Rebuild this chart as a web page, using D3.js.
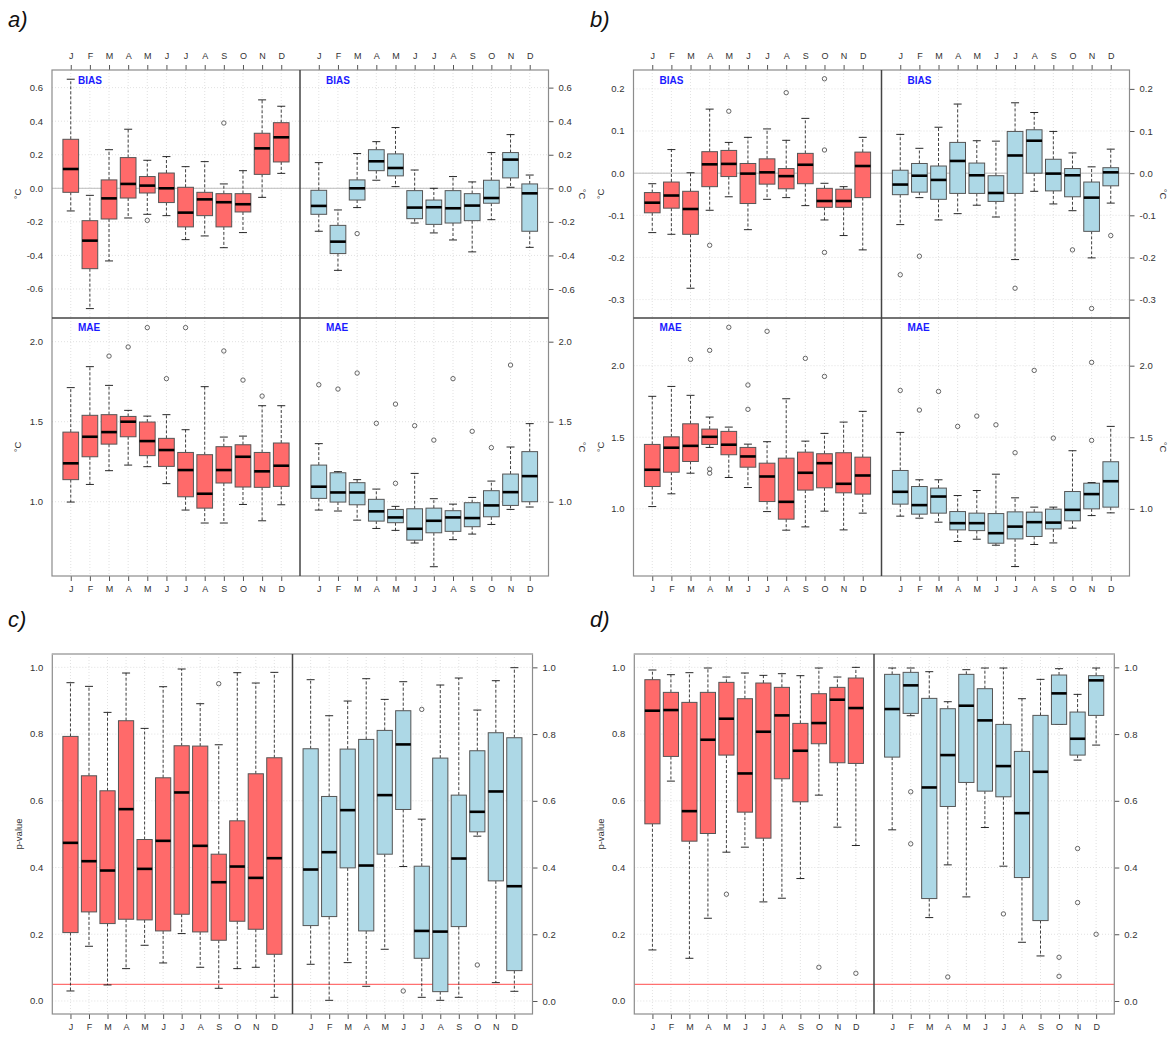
<!DOCTYPE html>
<html>
<head>
<meta charset="utf-8">
<script src="https://cdn.jsdelivr.net/npm/d3@7"></script>
<style>
  body { margin: 0; background: #fff; }
  svg { display: block; font-family: "Liberation Sans", Arial, sans-serif; }
</style>
</head>
<body>
<svg id="fig" width="1174" height="1039"></svg>
<script>
// ---- categories and ticks ----
const months = ["J", "F", "M", "A", "M", "J", "J", "A", "S", "O", "N", "D"];
const aBiasTicks = [-0.6, -0.4, -0.2, 0, 0.2, 0.4, 0.6];
const aMaeTicks = [1.0, 1.5, 2.0];
const bBiasTicks = [-0.3, -0.2, -0.1, 0, 0.1, 0.2];
const bMaeTicks = [1.0, 1.5, 2.0];
const pTicks = [0, 0.2, 0.4, 0.6, 0.8, 1.0];
const pThreshold = 0.05;

// ---- box statistics per month: [lower whisker, Q1, median, Q3, upper whisker, outliers] ----
const aBiasLeft = [
  [-0.135, -0.024, 0.115, 0.292, 0.650, []],
  [-0.717, -0.479, -0.312, -0.193, -0.042, []],
  [-0.433, -0.183, -0.060, 0.050, 0.230, []],
  [-0.177, -0.058, 0.026, 0.183, 0.352, []],
  [-0.155, -0.028, 0.016, 0.070, 0.167, [-0.191]],
  [-0.163, -0.085, 0.000, 0.091, 0.189, []],
  [-0.306, -0.230, -0.145, 0.006, 0.129, []],
  [-0.284, -0.163, -0.066, -0.024, 0.159, []],
  [-0.354, -0.230, -0.083, -0.032, 0.026, [0.389]],
  [-0.264, -0.141, -0.095, -0.032, 0.105, []],
  [-0.054, 0.083, 0.238, 0.328, 0.527, []],
  [0.089, 0.157, 0.304, 0.391, 0.489, []]
];
const aBiasRight = [
  [-0.256, -0.155, -0.105, -0.012, 0.153, []],
  [-0.489, -0.389, -0.318, -0.221, -0.129, []],
  [-0.115, -0.070, 0.000, 0.050, 0.207, [-0.270]],
  [0.048, 0.105, 0.161, 0.230, 0.278, []],
  [0.010, 0.074, 0.121, 0.205, 0.362, []],
  [-0.207, -0.181, -0.115, -0.014, 0.109, []],
  [-0.266, -0.215, -0.113, -0.070, 0.000, []],
  [-0.308, -0.207, -0.119, -0.014, 0.070, []],
  [-0.379, -0.193, -0.103, -0.032, 0.038, []],
  [-0.187, -0.089, -0.058, 0.048, 0.213, []],
  [0.006, 0.062, 0.171, 0.213, 0.320, []],
  [-0.352, -0.256, -0.030, 0.026, 0.079, []]
];
const aMaeLeft = [
  [0.998, 1.138, 1.240, 1.435, 1.713, []],
  [1.108, 1.281, 1.406, 1.540, 1.844, []],
  [1.194, 1.360, 1.435, 1.544, 1.727, [1.910]],
  [1.229, 1.406, 1.500, 1.533, 1.571, [1.967]],
  [1.219, 1.288, 1.379, 1.498, 1.535, [2.088]],
  [1.113, 1.221, 1.323, 1.396, 1.544, [1.769]],
  [0.948, 1.031, 1.198, 1.308, 1.450, [2.088]],
  [0.867, 0.960, 1.050, 1.294, 1.719, []],
  [0.867, 1.117, 1.198, 1.344, 1.404, [1.942]],
  [0.983, 1.092, 1.281, 1.356, 1.410, [1.760]],
  [0.881, 1.090, 1.190, 1.308, 1.600, [1.660]],
  [0.981, 1.096, 1.225, 1.367, 1.600, []]
];
const aMaeRight = [
  [0.948, 1.021, 1.094, 1.229, 1.363, [1.731]],
  [0.942, 0.998, 1.058, 1.181, 1.188, [1.704]],
  [0.885, 0.981, 1.058, 1.119, 1.138, [1.804]],
  [0.833, 0.879, 0.940, 1.015, 1.079, [1.490]],
  [0.821, 0.869, 0.902, 0.952, 0.971, [1.610, 1.115]],
  [0.742, 0.760, 0.831, 0.956, 1.177, [1.475]],
  [0.594, 0.806, 0.881, 0.960, 1.019, [1.385]],
  [0.763, 0.815, 0.902, 0.944, 0.985, [1.769]],
  [0.798, 0.844, 0.898, 0.994, 1.027, [1.440]],
  [0.858, 0.906, 0.977, 1.069, 1.129, [1.338]],
  [0.952, 0.977, 1.060, 1.173, 1.342, [1.854]],
  [0.967, 1.000, 1.160, 1.313, 1.488, []]
];
const bBiasLeft = [
  [-0.141, -0.094, -0.070, -0.046, -0.025, []],
  [-0.145, -0.083, -0.053, -0.021, 0.056, []],
  [-0.273, -0.145, -0.085, -0.043, 0.001, []],
  [-0.088, -0.032, 0.021, 0.051, 0.152, [-0.171]],
  [-0.056, -0.008, 0.022, 0.054, 0.073, [0.147]],
  [-0.134, -0.072, -0.001, 0.023, 0.085, []],
  [-0.062, -0.026, 0.002, 0.034, 0.105, []],
  [-0.058, -0.037, -0.007, 0.011, 0.078, [0.191]],
  [-0.077, -0.025, 0.020, 0.047, 0.130, []],
  [-0.111, -0.081, -0.066, -0.036, -0.024, [0.224, 0.055, -0.188]],
  [-0.148, -0.081, -0.066, -0.038, -0.032, []],
  [-0.182, -0.058, 0.017, 0.050, 0.085, []]
];
const bBiasRight = [
  [-0.122, -0.051, -0.027, 0.007, 0.092, [-0.241]],
  [-0.058, -0.045, -0.006, 0.023, 0.059, [-0.197]],
  [-0.111, -0.062, -0.016, 0.017, 0.109, []],
  [-0.096, -0.048, 0.029, 0.073, 0.164, []],
  [-0.076, -0.048, -0.005, 0.024, 0.077, []],
  [-0.104, -0.067, -0.047, -0.006, 0.076, []],
  [-0.205, -0.048, 0.042, 0.099, 0.167, [-0.273]],
  [-0.043, 0.000, 0.077, 0.103, 0.144, []],
  [-0.073, -0.042, -0.001, 0.033, 0.099, []],
  [-0.089, -0.056, -0.005, 0.011, 0.048, [-0.182]],
  [-0.201, -0.138, -0.058, -0.021, 0.015, [-0.321]],
  [-0.071, -0.030, 0.002, 0.013, 0.057, [-0.148]]
];
const bMaeLeft = [
  [1.016, 1.156, 1.273, 1.450, 1.786, []],
  [1.105, 1.256, 1.427, 1.503, 1.855, []],
  [1.249, 1.331, 1.440, 1.594, 1.793, [2.044]],
  [1.429, 1.450, 1.503, 1.557, 1.641, [2.107, 1.277, 1.249]],
  [1.219, 1.378, 1.448, 1.541, 1.571, [2.268]],
  [1.149, 1.291, 1.366, 1.429, 1.452, [1.865, 1.695]],
  [0.981, 1.051, 1.226, 1.319, 1.469, [2.240]],
  [0.851, 0.928, 1.049, 1.354, 1.769, []],
  [0.874, 1.131, 1.252, 1.396, 1.473, [2.051]],
  [0.984, 1.147, 1.319, 1.385, 1.527, [1.925]],
  [0.853, 1.112, 1.175, 1.392, 1.606, []],
  [0.970, 1.103, 1.233, 1.361, 1.681, []]
];
const bMaeRight = [
  [0.949, 1.033, 1.119, 1.268, 1.534, [1.827]],
  [0.935, 0.963, 1.026, 1.156, 1.203, [1.690]],
  [0.907, 0.970, 1.086, 1.145, 1.203, [1.820]],
  [0.772, 0.853, 0.900, 0.981, 1.093, [1.576]],
  [0.788, 0.848, 0.900, 0.970, 1.128, [1.648]],
  [0.746, 0.760, 0.830, 0.967, 1.242, [1.587]],
  [0.597, 0.790, 0.876, 0.979, 1.077, [1.392]],
  [0.751, 0.807, 0.907, 0.977, 1.012, [1.967]],
  [0.762, 0.860, 0.904, 0.998, 1.012, [1.494]],
  [0.865, 0.916, 0.993, 1.121, 1.406, []],
  [0.953, 1.000, 1.103, 1.179, 1.184, [2.023, 1.478]],
  [0.972, 1.012, 1.193, 1.329, 1.576, []]
];
const cLeft = [
  [0.030, 0.205, 0.474, 0.793, 0.954, []],
  [0.164, 0.267, 0.419, 0.675, 0.943, []],
  [0.048, 0.232, 0.391, 0.630, 0.865, []],
  [0.097, 0.245, 0.575, 0.840, 0.983, []],
  [0.167, 0.243, 0.396, 0.484, 0.817, []],
  [0.114, 0.210, 0.480, 0.669, 0.942, []],
  [0.202, 0.260, 0.625, 0.765, 0.995, []],
  [0.101, 0.207, 0.465, 0.764, 0.891, []],
  [0.038, 0.182, 0.356, 0.440, 0.768, [0.951]],
  [0.097, 0.239, 0.403, 0.540, 0.984, []],
  [0.101, 0.215, 0.369, 0.681, 0.953, []],
  [0.011, 0.140, 0.428, 0.729, 0.985, []]
];
const cRight = [
  [0.110, 0.226, 0.394, 0.756, 0.963, []],
  [0.002, 0.253, 0.446, 0.613, 0.855, []],
  [0.115, 0.399, 0.572, 0.755, 0.899, []],
  [0.044, 0.210, 0.406, 0.784, 0.966, []],
  [0.155, 0.440, 0.617, 0.811, 0.904, []],
  [0.403, 0.574, 0.769, 0.870, 0.957, [0.030]],
  [0.011, 0.128, 0.210, 0.404, 0.545, [0.874]],
  [0.002, 0.028, 0.208, 0.728, 0.947, []],
  [0.011, 0.223, 0.427, 0.617, 0.968, []],
  [0.494, 0.507, 0.567, 0.750, 0.872, [0.108]],
  [0.055, 0.360, 0.628, 0.804, 0.960, []],
  [0.029, 0.091, 0.344, 0.789, 0.999, []]
];
const dLeft = [
  [0.153, 0.531, 0.870, 0.963, 0.992, []],
  [0.659, 0.733, 0.872, 0.925, 0.978, []],
  [0.128, 0.479, 0.569, 0.895, 0.984, []],
  [0.248, 0.502, 0.783, 0.925, 0.998, []],
  [0.446, 0.737, 0.846, 0.955, 0.971, [0.320]],
  [0.461, 0.566, 0.682, 0.906, 0.983, []],
  [0.297, 0.488, 0.807, 0.953, 0.976, []],
  [0.308, 0.666, 0.856, 0.940, 0.981, []],
  [0.367, 0.597, 0.750, 0.832, 0.975, []],
  [0.617, 0.771, 0.833, 0.921, 0.998, [0.101]],
  [0.521, 0.714, 0.903, 0.940, 0.971, []],
  [0.466, 0.712, 0.878, 0.968, 1.000, [0.083]]
];
const dRight = [
  [0.513, 0.731, 0.875, 0.979, 0.998, []],
  [0.855, 0.862, 0.946, 0.985, 0.998, [0.627, 0.471]],
  [0.250, 0.307, 0.640, 0.907, 0.987, []],
  [0.408, 0.583, 0.737, 0.876, 0.897, [0.072]],
  [0.312, 0.655, 0.885, 0.979, 0.993, []],
  [0.520, 0.629, 0.841, 0.936, 0.998, []],
  [0.404, 0.612, 0.704, 0.829, 0.998, [0.261]],
  [0.176, 0.370, 0.563, 0.748, 0.906, []],
  [0.135, 0.241, 0.687, 0.856, 0.964, []],
  [0.829, 0.829, 0.922, 0.977, 0.996, [0.131, 0.074]],
  [0.722, 0.737, 0.786, 0.866, 0.919, [0.457, 0.295]],
  [0.767, 0.856, 0.961, 0.975, 0.998, [0.200]]
];

// ---- styling ----
const RED = "#FF6A6A";
const BLUE = "#ADD8E6";
const FRAME = "#8c8c8c";
const DIVIDER = "#444";
const GRID = "#d9d9d9";
const TXT = "#333";

const svg = d3.select("#fig");
const fmt = v => v.toFixed(1);
const monthIdx = d3.range(1, 13);

// One half-panel: grid, optional reference line, boxes
function drawHalf(g, x0, x1, yScale, ticks, data, fill, zeroLine) {
  const x = d3.scaleLinear().domain([0.02, 12.98]).range([x0, x1]);
  const [yb, yt] = yScale.range();
  const grid = g.append("g");
  grid.selectAll("line.v").data(monthIdx).join("line")
    .attr("x1", d => x(d)).attr("x2", d => x(d))
    .attr("y1", yt).attr("y2", yb)
    .attr("stroke", GRID).attr("stroke-width", 0.8).attr("stroke-dasharray", "1,2");
  grid.selectAll("line.h").data(ticks).join("line")
    .attr("x1", x0).attr("x2", x1)
    .attr("y1", d => yScale(d)).attr("y2", d => yScale(d))
    .attr("stroke", GRID).attr("stroke-width", 0.8).attr("stroke-dasharray", "1,2");
  if (zeroLine) {
    g.append("line").attr("x1", x0).attr("x2", x1)
      .attr("y1", yScale(0)).attr("y2", yScale(0))
      .attr("stroke", "#bdbdbd").attr("stroke-width", 1);
  }
  return x;
}

function drawBoxes(g, x, yScale, data, fill) {
  const step = x(2) - x(1);
  const hw = step * 0.41;
  const cap = 4;
  const boxes = g.append("g").selectAll("g").data(data).join("g")
    .attr("transform", (d, i) => `translate(${x(i + 1)},0)`);
  // whiskers
  boxes.append("line").attr("x1", 0).attr("x2", 0)
    .attr("y1", d => yScale(d[3])).attr("y2", d => yScale(d[4]))
    .attr("stroke", "#111").attr("stroke-width", 0.8).attr("stroke-dasharray", "3,2");
  boxes.append("line").attr("x1", 0).attr("x2", 0)
    .attr("y1", d => yScale(d[1])).attr("y2", d => yScale(d[0]))
    .attr("stroke", "#111").attr("stroke-width", 0.8).attr("stroke-dasharray", "3,2");
  boxes.append("line").attr("x1", -cap).attr("x2", cap)
    .attr("y1", d => yScale(d[4])).attr("y2", d => yScale(d[4]))
    .attr("stroke", "#111").attr("stroke-width", 0.9);
  boxes.append("line").attr("x1", -cap).attr("x2", cap)
    .attr("y1", d => yScale(d[0])).attr("y2", d => yScale(d[0]))
    .attr("stroke", "#111").attr("stroke-width", 0.9);
  // box
  boxes.append("rect").attr("x", -hw).attr("width", 2 * hw)
    .attr("y", d => yScale(d[3])).attr("height", d => yScale(d[1]) - yScale(d[3]))
    .attr("fill", fill).attr("stroke", "#555").attr("stroke-width", 1);
  // median
  boxes.append("line").attr("x1", -hw).attr("x2", hw)
    .attr("y1", d => yScale(d[2])).attr("y2", d => yScale(d[2]))
    .attr("stroke", "#000").attr("stroke-width", 2.6);
  // outliers
  boxes.each(function (d) {
    d3.select(this).selectAll("circle").data(d[5]).join("circle")
      .attr("cx", 0).attr("cy", v => yScale(v)).attr("r", 2.2)
      .attr("fill", "none").attr("stroke", "#555").attr("stroke-width", 0.9);
  });
}

function monthAxis(g, x, y, dir) {
  const ax = (dir === "top" ? d3.axisTop(x) : d3.axisBottom(x))
    .tickValues(monthIdx).tickFormat(d => months[d - 1])
    .tickSize(5).tickPadding(dir === "top" ? 6 : 5);
  const a = g.append("g").attr("transform", `translate(0,${y})`).call(ax);
  a.select(".domain").remove();
  a.selectAll("line").attr("stroke", "#555");
  a.selectAll("text").attr("fill", TXT).style("font-size", "9px")
    .style("font-family", "'Liberation Sans', Arial, sans-serif");
}

function leftLabels(g, x0, yScale, ticks) {
  g.append("g").selectAll("text").data(ticks).join("text")
    .attr("x", x0 - 9).attr("y", d => yScale(d)).attr("dy", "0.35em")
    .attr("text-anchor", "end").attr("fill", TXT).style("font-size", "9.5px")
    .text(fmt);
}

function rightAxis(g, x1, yScale, ticks) {
  const a = g.append("g").attr("transform", `translate(${x1},0)`)
    .call(d3.axisRight(yScale).tickValues(ticks).tickFormat(fmt).tickSize(5).tickPadding(5));
  a.select(".domain").remove();
  a.selectAll("line").attr("stroke", "#555");
  a.selectAll("text").attr("fill", TXT).style("font-size", "9.5px")
    .style("font-family", "'Liberation Sans', Arial, sans-serif");
}

function stripLabel(g, x, y, txt) {
  g.append("text").attr("x", x).attr("y", y).attr("fill", "#1a1aff")
    .style("font-size", "10px").style("font-weight", "bold").text(txt);
}

function vLabel(g, x, y, txt, rot) {
  g.append("text").attr("transform", `translate(${x},${y}) rotate(${rot})`)
    .attr("text-anchor", "middle").attr("dy", "0.35em")
    .attr("fill", TXT).style("font-size", "9.5px").text(txt);
}

function panelLetter(x, y, txt) {
  svg.append("text").attr("x", x).attr("y", y)
    .style("font-size", "22px").style("font-style", "italic").attr("fill", "#111").text(txt);
}

// Figures with a BIAS row on top of an MAE row
function drawTwoRow(cfg) {
  const g = svg.append("g");
  const { xl, xm, xr, top, mid, bot } = cfg;
  const yBias = d3.scaleLinear().domain(cfg.biasDomain).range([mid, top]);
  const yMae = d3.scaleLinear().domain(cfg.maeDomain).range([bot, mid]);

  const rows = [
    { y: yBias, ticks: cfg.biasTicks, l: cfg.biasL, r: cfg.biasR, zero: true, label: "BIAS", ly: top + 14 },
    { y: yMae, ticks: cfg.maeTicks, l: cfg.maeL, r: cfg.maeR, zero: false, label: "MAE", ly: mid + 13 }
  ];
  rows.forEach(row => {
    const xa = drawHalf(g, xl, xm, row.y, row.ticks, row.l, RED, row.zero);
    const xb = drawHalf(g, xm, xr, row.y, row.ticks, row.r, BLUE, row.zero);
    drawBoxes(g, xa, row.y, row.l, RED);
    drawBoxes(g, xb, row.y, row.r, BLUE);
    stripLabel(g, xl + 26, row.ly, row.label);
    stripLabel(g, xm + 26, row.ly, row.label);
    leftLabels(g, xl, row.y, row.ticks);
    rightAxis(g, xr, row.y, row.ticks);
    row.xa = xa; row.xb = xb;
  });
  monthAxis(g, rows[0].xa, top, "top");
  monthAxis(g, rows[0].xb, top, "top");
  monthAxis(g, rows[1].xa, bot, "bottom");
  monthAxis(g, rows[1].xb, bot, "bottom");

  // frame and dividers
  g.append("rect").attr("x", xl).attr("y", top).attr("width", xr - xl).attr("height", bot - top)
    .attr("fill", "none").attr("stroke", FRAME).attr("stroke-width", 1.2);
  g.append("line").attr("x1", xm).attr("x2", xm).attr("y1", top).attr("y2", bot)
    .attr("stroke", DIVIDER).attr("stroke-width", 1.5);
  g.append("line").attr("x1", xl).attr("x2", xr).attr("y1", mid).attr("y2", mid)
    .attr("stroke", DIVIDER).attr("stroke-width", 1.5);

  vLabel(g, cfg.ylabL, (top + mid) / 2, "°C", -90);
  vLabel(g, cfg.ylabL, (mid + bot) / 2, "°C", -90);
  vLabel(g, cfg.ylabR, (top + mid) / 2, "°C", 90);
  vLabel(g, cfg.ylabR, (mid + bot) / 2, "°C", 90);
}

// Figures with p-values
function drawPValue(cfg) {
  const g = svg.append("g");
  const { xl, xm, xr, top, bot } = cfg;
  const y = d3.scaleLinear().domain([-0.039, 1.04]).range([bot, top]);
  const xa = drawHalf(g, xl, xm, y, pTicks, cfg.left, RED, false);
  const xb = drawHalf(g, xm, xr, y, pTicks, cfg.right, BLUE, false);
  g.append("line").attr("x1", xl).attr("x2", xr)
    .attr("y1", y(pThreshold)).attr("y2", y(pThreshold))
    .attr("stroke", "#ff4d4d").attr("stroke-width", 1);
  drawBoxes(g, xa, y, cfg.left, RED);
  drawBoxes(g, xb, y, cfg.right, BLUE);
  leftLabels(g, xl, y, pTicks);
  rightAxis(g, xr, y, pTicks);
  monthAxis(g, xa, bot, "bottom");
  monthAxis(g, xb, bot, "bottom");
  g.append("rect").attr("x", xl).attr("y", top).attr("width", xr - xl).attr("height", bot - top)
    .attr("fill", "none").attr("stroke", FRAME).attr("stroke-width", 1.2);
  g.append("line").attr("x1", xl).attr("x2", xr).attr("y1", top).attr("y2", top)
    .attr("stroke", "#bbb").attr("stroke-width", 2);
  g.append("line").attr("x1", xm).attr("x2", xm).attr("y1", top).attr("y2", bot)
    .attr("stroke", DIVIDER).attr("stroke-width", 1.5);
  vLabel(g, cfg.ylabL, (top + bot) / 2, "p-value", -90);
}

drawTwoRow({
  xl: 52, xm: 300, xr: 548.5, top: 70, mid: 318, bot: 576,
  biasDomain: [-0.773, 0.705], maeDomain: [0.536, 2.148],
  biasTicks: aBiasTicks, maeTicks: aMaeTicks,
  biasL: aBiasLeft, biasR: aBiasRight, maeL: aMaeLeft, maeR: aMaeRight,
  ylabL: 18, ylabR: 582
});
drawTwoRow({
  xl: 633.5, xm: 881.5, xr: 1129.5, top: 70, mid: 318, bot: 576,
  biasDomain: [-0.3436, 0.2448], maeDomain: [0.531, 2.333],
  biasTicks: bBiasTicks, maeTicks: bMaeTicks,
  biasL: bBiasLeft, biasR: bBiasRight, maeL: bMaeLeft, maeR: bMaeRight,
  ylabL: 601, ylabR: 1163
});
drawPValue({ xl: 52.3, xm: 292.5, xr: 532.5, top: 654, bot: 1014, left: cLeft, right: cRight, ylabL: 19 });
drawPValue({ xl: 634.3, xm: 874, xr: 1114.3, top: 654, bot: 1014, left: dLeft, right: dRight, ylabL: 601 });

panelLetter(8, 27, "a)");
panelLetter(590, 27, "b)");
panelLetter(8, 627, "c)");
panelLetter(590, 627, "d)");
</script>
</body>
</html>
